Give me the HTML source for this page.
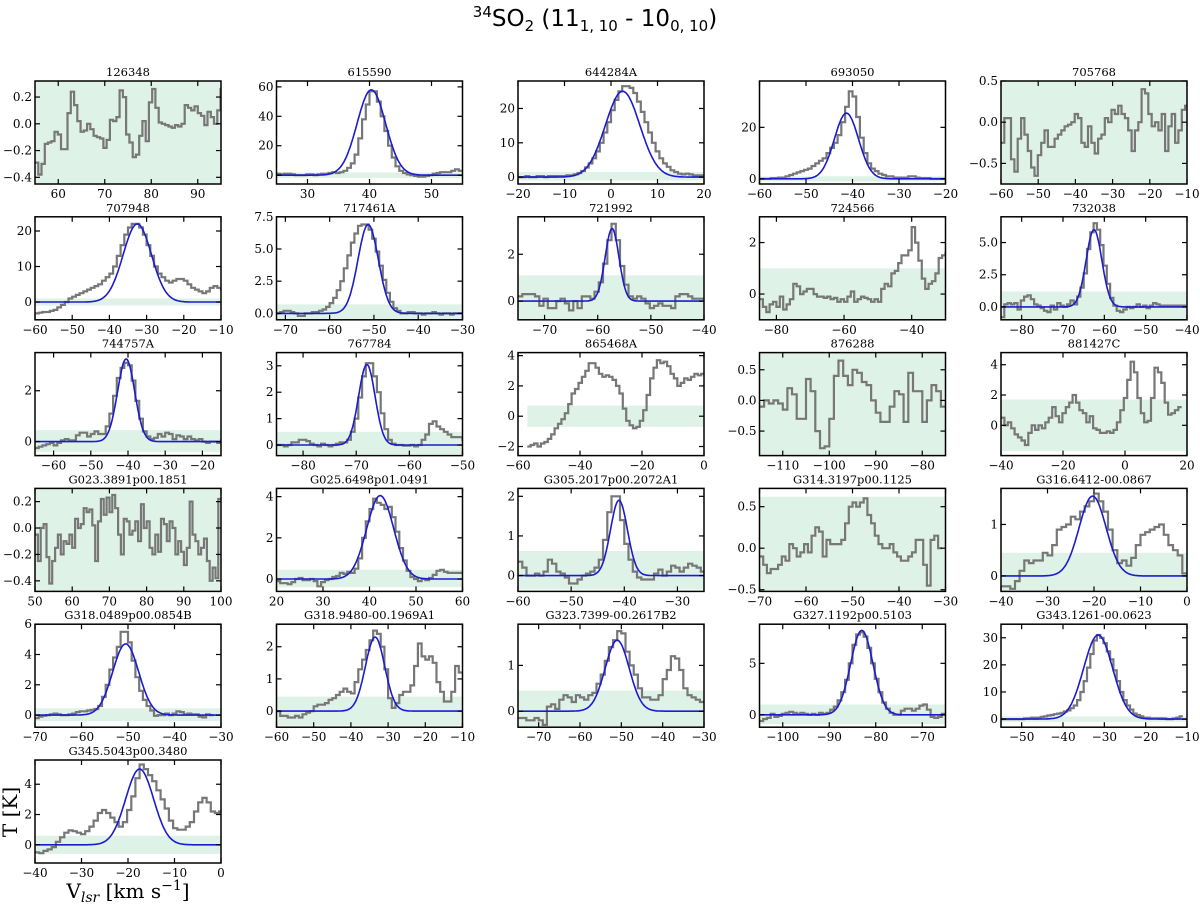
<!DOCTYPE html>
<html><head><meta charset="utf-8">
<style>
html,body{margin:0;padding:0;background:#fff;}
svg{display:block;}
text{font-family:"DejaVu Serif","Liberation Serif",serif;}
</style></head>
<body>
<svg id="chart" width="1200" height="905" viewBox="0 0 1200 905" xmlns="http://www.w3.org/2000/svg">
<text x="595" y="26" text-anchor="middle" font-size="23" style="font-family:'DejaVu Sans',sans-serif"><tspan font-size="15" dy="-9">34</tspan><tspan dy="9">SO</tspan><tspan font-size="15" dy="5">2</tspan><tspan dy="-5"> (11</tspan><tspan font-size="15" dy="5">1, 10</tspan><tspan dy="-5"> - 10</tspan><tspan font-size="15" dy="5">0, 10</tspan><tspan dy="-5">)</tspan></text>
<text x="0" y="0" transform="translate(17,812) rotate(-90)" text-anchor="middle" font-size="20">T [K]</text>
<text x="128" y="898" text-anchor="middle" font-size="20">V<tspan font-size="14" font-style="italic" dy="4">lsr</tspan><tspan dy="-4"> [km s</tspan><tspan font-size="14" dy="-8">−1</tspan><tspan dy="8">]</tspan></text>
</svg>
<script>
// ---- panel titles ----
const titles = ["126348","615590","644284A","693050","705768","707948","717461A","721992","724566","732038","744757A","767784","865468A","876288","881427C","G023.3891p00.1851","G025.6498p01.0491","G305.2017p00.2072A1","G314.3197p00.1125","G316.6412-00.0867","G318.0489p00.0854B","G318.9480-00.1969A1","G323.7399-00.2617B2","G327.1192p00.5103","G343.1261-00.0623","G345.5043p00.3480"];
// ---- x axis limits and ticks ----
const xLims = [[55,95],[25,55],[-20,20],[-60,-20],[-60,-10],[-60,-10],[-72,-30],[-75,-40],[-85,-30],[-85,-40],[-65,-15],[-85,-50],[-60,0],[-115,-75],[-40,20],[50,100],[20,60],[-60,-25],[-70,-30],[-40,0],[-70,-30],[-60,-10],[-75,-30],[-105,-65],[-55,-10],[-40,0]];
const xTicks = [[60,70,80,90],[30,40,50],[-20,-10,0,10,20],[-60,-50,-40,-30,-20],[-60,-50,-40,-30,-20,-10],[-60,-50,-40,-30,-20,-10],[-70,-60,-50,-40,-30],[-70,-60,-50,-40],[-80,-60,-40],[-80,-70,-60,-50,-40],[-60,-50,-40,-30,-20],[-80,-70,-60,-50],[-60,-40,-20,0],[-110,-100,-90,-80],[-40,-20,0,20],[50,60,70,80,90,100],[20,30,40,50,60],[-60,-50,-40,-30],[-70,-60,-50,-40,-30],[-40,-30,-20,-10,0],[-70,-60,-50,-40,-30],[-60,-50,-40,-30,-20,-10],[-70,-60,-50,-40,-30],[-100,-90,-80,-70],[-50,-40,-30,-20,-10],[-40,-30,-20,-10,0]];
// ---- y axis limits and ticks ----
const yLims = [[-0.45,0.32],[-6,64],[-2,28],[-2,38],[-0.75,0.5],[-5,24],[-0.5,7.5],[-0.8,3.6],[-1,3],[-1,7],[-0.55,3.5],[-0.4,3.5],[-2.6,4.2],[-0.9,0.78],[-2,4.8],[-0.48,0.3],[-0.6,4.4],[-0.4,2.2],[-0.52,0.72],[-0.3,1.7],[-0.8,6],[-0.5,2.7],[-0.35,1.9],[-1.2,8.8],[-3,35],[-1.2,5.6]];
const yTicks = [[-0.4,-0.2,0,0.2],[0,20,40,60],[0,10,20],[0,20],[-0.5,0,0.5],[0,10,20],[0,2.5,5,7.5],[0,2],[0,2],[0,2.5,5],[0,2],[0,1,2,3],[-2,0,2,4],[-0.5,0,0.5],[0,2,4],[-0.4,-0.2,0,0.2],[0,2,4],[0,1,2],[-0.5,0,0.5],[0,1],[0,2,4,6],[0,1,2],[0,1],[0,5],[0,10,20,30],[0,2,4]];
const yTickLabels = [["−0.4","−0.2","0.0","0.2"],["0","20","40","60"],["0","10","20"],["0","20"],["−0.5","0.0","0.5"],["0","10","20"],["0.0","2.5","5.0","7.5"],["0","2"],["0","2"],["0.0","2.5","5.0"],["0","2"],["0","1","2","3"],["−2","0","2","4"],["−0.5","0.0","0.5"],["0","2","4"],["−0.4","−0.2","0.0","0.2"],["0","2","4"],["0","1","2"],["−0.5","0.0","0.5"],["0","1"],["0","2","4","6"],["0","1","2"],["0","1"],["0","5"],["0","10","20","30"],["0","2","4"]];
// ---- rms band [lo, hi, xStart] (null xStart = full width) ----
const bands = [[-0.45,0.32,null],[-1.8,1.8,null],[-1,1.5,null],[-1,1,null],[-0.75,0.5,null],[-1,1,null],[-0.6,0.7,null],[-0.8,1.1,null],[-1,1,null],[-1,1.2,null],[-0.4,0.45,null],[-0.35,0.5,null],[-0.7,0.7,-57],[-0.9,0.78,null],[-1.7,1.7,null],[-0.48,0.3,null],[-0.4,0.45,null],[-0.35,0.62,null],[-0.52,0.62,null],[-0.3,0.45,null],[-0.4,0.45,null],[-0.45,0.45,null],[-0.35,0.45,null],[-0.9,1,null],[-1,1,null],[-0.6,0.6,null]];
// ---- spectrum start velocity and channel width ----
const specV0 = [55,25,-20,-60,-60,-60,-72,-75,-85,-85,-65,-85,-57,-115,-40,50,20,-60,-70,-40,-70,-60,-75,-105,-55,-40];
const specDv = [0.7,0.6,0.8,0.8,0.9,1,0.8,0.8,1,0.8,1,0.7,1.1,1,1.1,0.77,0.8,0.8,0.8,1,0.8,1,1,0.8,0.8,0.9];
// ---- spectra (brightness temperature per channel) ----
const spec = [
[-0.29,-0.38,-0.30,-0.15,-0.14,-0.13,-0.06,-0.08,-0.19,-0.19,0.08,0.24,0.14,0.02,-0.06,-0.05,0.00,-0.04,-0.09,-0.10,-0.11,-0.18,-0.12,0.03,0.02,0.05,0.25,0.20,-0.08,-0.14,-0.25,-0.23,-0.09,0.02,-0.13,0.16,0.26,0.12,0.01,0.00,-0.01,-0.02,-0.03,-0.01,-0.02,0.00,0.14,0.12,0.10,0.13,0.08,0.06,-0.01,0.09,0.05,0.00,0.10,0.26,0.20],
[1,0.5,1,1,0.5,0,0,0,0.5,0.5,0,0.5,1,1,1.5,2,1.5,2,3,5,8,14,25,38,48,57,57,50,40,30,20,12,6,3,1.5,0.5,0,-0.5,-1,-1,-0.5,0,1,1.5,2,2,2,3,4,3],
[0,0,0.3,0,0,0.3,0.3,0,0.3,0.3,0.3,0.3,0.3,0.5,0.5,0.8,1.2,1.8,2.8,4,5.5,7.5,10,13,16,19.5,22.5,25,26.5,26.5,26,24.5,22,19,16,13,10,7.5,5.5,4,3,2,1.5,1,0.8,1,0.8,0.5,0.5,0.5],
[0,0,0,0.3,0.3,0.5,0.5,1,1.5,2,2.5,3,3.5,4,5,6,7,8,10,12,14,17,22,28,34,32,24,16,10,6,4,3,2,1.5,1,1,0.5,0.5,0.5,0.5,1,1,0.5,0.3,0.3,0.3,0,0,0,0],
[-0.25,0.05,0.05,-0.45,-0.60,-0.20,0.05,-0.15,-0.35,-0.55,-0.65,-0.40,-0.25,-0.10,-0.30,-0.30,-0.20,-0.15,-0.10,-0.05,-0.03,0.00,0.10,0.05,-0.25,-0.30,-0.05,-0.25,-0.38,-0.20,-0.15,0.05,0.00,0.15,0.10,0.20,0.10,0.05,-0.10,-0.35,-0.10,0.00,0.40,0.35,0.10,-0.05,0.00,-0.10,0.10,-0.35,-0.05,0.10,-0.25,-0.10,0.15,0.20],
[-3.2,-3,-2.8,-2.8,-2.5,-2.2,-1.5,-0.8,0,1,1.5,2,2.5,3,3.5,4,4.5,5,6,7,8,10,13,16,19,21,22,22,21,19,16,13,10,8,7,6,5.5,6,6.5,6.5,6,5,4,3.5,3,2.5,3,4,4.5,4,3.5],
[0,0.1,0.2,0.2,0.1,0,-0.2,-0.2,0,0,0.1,0.1,0.2,0.3,0.5,0.8,1.2,1.8,2.5,3.5,4.5,5.5,6.2,6.8,6.9,6.9,6.5,5.8,4.8,3.7,2.6,1.6,0.9,0.4,0.2,0,0,0.1,0.1,0,0,-0.1,0,0,0.1,0,-0.1,0,0,-0.1,0,0,0],
[0.2,0.3,0.3,0.3,0.2,-0.2,0.1,-0.3,-0.3,0,0.1,-0.1,-0.4,0,-0.3,0.2,0.2,0.1,0.4,0.8,1.6,2.6,3.3,2.6,1.5,0.7,0.2,0.1,0.2,0.1,-0.1,-0.3,-0.2,-0.1,-0.2,-0.2,-0.3,0.2,0.3,0.3,0.2,0.1,0.1,0.1],
[-0.2,-0.5,-0.7,-0.4,-0.3,-0.5,-0.1,-0.6,-0.4,-0.2,0.4,0.3,0,0.1,0.2,0.2,0,-0.1,-0.1,-0.15,-0.1,-0.2,-0.15,-0.3,-0.2,-0.3,-0.1,0.1,-0.3,-0.2,-0.1,-0.15,-0.2,-0.3,-0.2,-0.3,0.2,0.4,0.3,0.8,0.9,1.2,1.5,1.5,1.7,2.6,2.0,1.3,0.6,0.2,0.4,0.5,0.8,1.4,1.5,1.6],
[-0.8,0.2,0.3,0.2,0.3,-0.2,0.5,0.8,0.9,0.6,0.2,0.1,-0.1,-0.3,-0.4,0.1,-0.2,0.3,0.1,0.0,0.2,0.5,0.2,0.8,1.5,2.6,4.5,5.8,6.5,6,4.8,3.2,1.8,0.7,0.1,-0.3,-0.4,-0.2,0,-0.1,0,0.2,0,0.1,-0.1,0.1,0.3,0.2,0.1,0.1,0.1,0.1,0.1,0.1,0.1,0.1],
[-0.25,-0.2,-0.15,-0.1,-0.05,-0.15,-0.05,0.05,0.1,0.05,0.05,0.25,0.35,0.35,0.2,0.3,0.4,0.3,0.3,0.6,1.1,1.8,2.5,2.9,3.1,3.0,2.4,1.6,0.9,0.4,0.2,0.1,0.15,0.3,0.2,0.35,0.3,0.1,0.25,0.2,0.1,0.2,0.1,0.05,0.1,0,-0.05,0,0,-0.05,0.05,0.15],
[0,0,-0.05,0,0.1,0.1,0.2,0.2,0.15,0.05,0,-0.05,0.05,0,-0.05,0,0.05,0.1,0.1,0.2,0.5,1.0,1.8,2.6,3.1,3.1,2.6,2.0,1.2,0.6,0.2,0.05,0,0,-0.02,-0.02,0,-0.05,0,0.2,0.4,0.8,0.9,0.7,0.6,0.5,0.4,0.3,0.3,0.3,0.2],
[-2,-1.9,-1.8,-2,-1.8,-1.7,-1.5,-1.2,-0.8,-0.5,-0.2,0.2,0.8,1.5,1.8,2.2,2.6,3.0,3.5,3.5,3.2,2.8,2.6,2.7,2.6,2.4,2.0,1.5,0.5,-0.3,-0.6,-0.8,-0.7,-0.3,0.4,1.4,2.5,3.2,3.7,3.5,3.6,3.3,2.8,2.5,2.0,2.2,2.5,2.4,2.6,2.8,2.7,2.8],
[-0.1,0,-0.05,0,-0.05,-0.15,0.2,0.1,-0.3,-0.3,0.35,0.15,-0.5,-0.78,-0.75,-0.3,0.4,0.65,0.4,0.25,0.5,0.45,0.3,0.25,0,-0.2,-0.35,-0.35,-0.1,0.15,0.1,-0.35,0.45,0.15,0.15,-0.35,0,0.25,0.15,-0.1],
[0.5,0,0.2,-0.2,-0.6,-0.8,-1.0,-1.3,-0.5,0,-0.3,0,-0.2,0.2,0.5,1.2,0.6,0.2,0.8,1.2,1.5,2.0,1.5,1.0,0.8,0.2,0.6,-0.2,-0.3,-0.5,-0.5,-0.4,-0.5,-0.3,0.2,1.0,1.8,3.0,4.2,3.5,1.8,0.8,0.2,0.3,1.8,3.8,3.5,2.8,1.5,0.7,0.8,1.0,1.2],
[-0.05,-0.25,0.0,0.03,-0.22,-0.42,-0.25,-0.15,-0.05,-0.2,-0.1,-0.12,-0.05,-0.15,0.07,0.0,0.03,0.15,0.12,0.14,0.02,-0.25,0.05,0.22,0.1,0.23,0.12,0.25,0.15,-0.05,-0.2,0.07,0.05,-0.05,-0.02,0.05,-0.1,0.18,0.0,0.05,-0.15,-0.2,-0.05,-0.18,0.07,0.03,-0.1,0.05,0.0,-0.2,-0.1,-0.18,-0.28,-0.15,0.2,-0.05,-0.1,-0.2,-0.15,-0.08,-0.25,-0.4,-0.3,-0.38,0.22],
[-0.1,-0.2,-0.2,-0.25,-0.15,0,0.05,-0.05,-0.05,0,-0.1,-0.35,-0.15,-0.05,0.0,0.1,0.15,0.3,0.25,0.35,0.3,0.5,1.0,2.0,2.8,3.4,3.9,3.7,3.6,3.4,3.5,3.0,2.3,1.5,0.9,0.4,0.1,0.0,-0.1,0,-0.05,0.05,0.2,0.4,0.45,0.35,0.3,0.3,0.3,0.3],
[0.35,0.2,0.0,0.0,0.05,0.0,0.1,0.4,0.3,0.1,0.05,-0.05,-0.2,-0.2,-0.1,0,0.05,0.1,0.2,0.4,0.9,1.6,2.0,2.0,1.4,0.8,0.4,0.1,-0.05,-0.1,-0.1,-0.1,0.05,0.15,0.0,0.1,0.25,0.2,0.1,0.2,0.3,0.25,0.2,0.1],
[-0.1,-0.2,-0.3,-0.25,-0.25,-0.2,-0.1,-0.15,0.05,0.0,-0.1,-0.05,0.05,-0.05,0.15,0.25,0.2,-0.1,0.1,0.05,0.05,0.05,0.1,0.3,0.5,0.55,0.5,0.55,0.6,0.4,0.3,0.15,0.05,0.0,0.0,0.05,-0.05,-0.1,-0.15,-0.15,-0.1,-0.05,0.1,0.1,-0.2,-0.45,0.1,0.15,0.0],
[-0.2,-0.2,-0.25,-0.1,0.1,0.3,0.25,0.3,0.3,0.45,0.4,0.6,0.9,0.95,1.0,1.15,1.1,1.25,1.35,1.45,1.6,1.45,1.25,0.9,0.5,0.25,0.3,0.2,0.35,0.6,0.8,0.85,0.9,0.95,1.0,0.8,0.6,0.5,0.4,0.05],
[-0.2,-0.1,-0.05,0,0.05,0.1,0.05,0,0,0.05,0.1,0.2,0.25,0.25,0.3,0.35,0.4,0.6,1.2,2.0,3.0,3.8,4.5,5.5,5.5,4.8,3.6,2.5,1.6,1.0,0.6,0.3,-0.05,0.0,0.0,0.1,0.0,0.1,0.25,0.2,0.05,0.1,0.05,0.05,-0.1,-0.15,0.05,0],
[0.0,-0.15,-0.15,-0.2,-0.2,-0.15,-0.2,-0.1,-0.05,0,0.15,0.2,0.2,0.25,0.35,0.4,0.5,0.6,0.7,0.6,0.55,0.9,1.3,1.6,1.9,2.2,2.5,2.4,2.0,1.3,0.4,0.1,0.25,0.5,0.6,0.6,0.8,1.4,2.1,1.7,1.6,1.7,1.5,0.9,0.6,0.3,0.3,0.6,1.4,1.2],
[-0.15,-0.15,-0.2,-0.2,-0.15,-0.2,-0.3,0.1,0.15,0.05,0.25,0.35,0.3,0.2,0.35,0.3,0.25,0.35,0.4,0.6,0.8,1.1,1.4,1.55,1.75,1.7,1.3,1.0,0.8,0.5,0.3,0.3,0.25,0.25,0.35,0.7,0.9,1.2,1.15,0.9,0.5,0.35,0.3,0.25,0.2],
[-0.6,-0.4,-0.3,0.1,-0.2,-0.1,0.1,0.2,0.3,0.2,0.1,0.2,0.1,0.0,0.1,0.0,0.2,0.1,0.2,0.5,0.8,1.4,2.2,3.4,5.0,6.8,7.8,8.0,7.6,6.5,5.0,3.5,2.2,1.2,0.6,0.2,0.0,0.0,0.4,0.6,0.6,0.4,0.6,0.9,1.0,0.5,-0.2,-0.3,-0.2,0.1,0.1],
[0,0,0,0,0,0,0,0.2,0.3,0.5,0.5,0.5,0.8,1,1.3,1.5,1.8,2,2.3,2.8,3.2,4,5,7,10,14,19,24,29,31,30,28,25,22,18,14,10,7,5,3.5,2,1.5,1,0.5,0.5,0.3,0.3,0.3,0.3,0.2,0,0,0.2,0.5,1],
[-0.5,-0.55,-0.4,-0.3,-0.15,0.2,0.5,0.8,0.95,0.9,0.8,0.7,0.9,1.2,1.6,2.1,2.3,2.1,1.8,1.5,1.2,1.5,2.3,3.2,4.4,5.3,5.0,4.6,4.2,3.6,3.0,2.4,1.6,1.1,1.0,1.0,1.2,1.5,2.2,2.8,3.1,2.8,2.2,2.1,2.2,2.0,1.8]
];
// ---- gaussian fit parameters [amplitude, centre, sigma] (null = no fit) ----
const fitAmp = [null,58,25,25.5,null,22,6.9,3.1,null,6,3.25,3.05,null,null,null,null,4.05,1.9,null,1.55,4.7,2.3,1.55,8.2,31,5];
const fitCen = [null,40.3,2.5,-41.3,null,-32.5,-51.3,-57.3,null,-62.5,-40.5,-68,null,null,null,null,42.3,-41,null,-20.3,-50.5,-33.5,-51,-83,-31.5,-17.5];
const fitSig = [null,2.3,3.7,2.6,null,3.8,2.3,1.3,null,1.9,2.3,1.55,null,null,null,null,2.9,1.6,null,2.9,2.8,2.6,2.9,2.4,3.5,3];

const NS = "http://www.w3.org/2000/svg";
const svg = document.getElementById("chart");
const PW = 186, PH = 103;
function mk(tag, attrs, parent){
  const e = document.createElementNS(NS, tag);
  for (const k in attrs) e.setAttribute(k, attrs[k]);
  parent.appendChild(e);
  return e;
}
function fmtX(v){ return v < 0 ? "−" + Math.abs(v) : String(v); }

titles.forEach((title, i) => {
  const col = i % 5, row = Math.floor(i / 5);
  const L = 35 + col * 241.5, T = 81 + row * 135.8;
  const [x0, x1] = xLims[i], [y0, y1] = yLims[i];
  const sx = v => L + (v - x0) / (x1 - x0) * PW;
  const sy = v => T + PH - (v - y0) / (y1 - y0) * PH;

  const g = mk("g", {}, svg);
  
  

  const cp = mk("clipPath", {id: "clip" + i}, g);
  mk("rect", {x: L, y: T, width: PW, height: PH}, cp);

  const t = mk("text", {x: L + PW / 2, y: T - 5, "text-anchor": "middle", "font-size": "11.5"}, g);
  t.textContent = title;
  
  

  const inner = mk("g", {"clip-path": "url(#clip" + i + ")"}, g);
  const b = bands[i];
  const bx = b[2] === null ? L : sx(b[2]);
  const band = mk("rect", {x: bx, y: sy(b[1]), width: L + PW - bx, height: sy(b[0]) - sy(b[1]), fill: "#dff2e7"}, inner);
  
  

  const s = spec[i], v0 = specV0[i], dv = specDv[i];
  let d = "";
  s.forEach((val, k) => {
    const xa = sx(v0 + k * dv), xb = sx(v0 + (k + 1) * dv), y = sy(val);
    d += (k === 0 ? "M" : "L") + xa.toFixed(1) + "," + y.toFixed(1) + "L" + xb.toFixed(1) + "," + y.toFixed(1);
  });
  const sp = mk("path", {d: d, fill: "none", stroke: "#777", "stroke-width": "2.2"}, inner);
  
  

  if (fitAmp[i] !== null) {
    let fd = "";
    const N = 200;
    for (let k = 0; k <= N; k++) {
      const v = x0 + (x1 - x0) * k / N;
      const y = fitAmp[i] * Math.exp(-0.5 * Math.pow((v - fitCen[i]) / fitSig[i], 2));
      fd += (k ? "L" : "M") + sx(v).toFixed(1) + "," + sy(y).toFixed(1);
    }
    const fp = mk("path", {d: fd, fill: "none", stroke: "#1c1ccf", "stroke-width": "1.6"}, inner);
    
    
  }

  const frame = mk("rect", {x: L, y: T, width: PW, height: PH, fill: "none", stroke: "#000", "stroke-width": "1.5"}, g);
  
  

  xTicks[i].forEach(v => {
    const x = sx(v);
    mk("line", {x1: x, y1: T + PH, x2: x, y2: T + PH - 5, stroke: "#000", "stroke-width": "1.2"}, g);
    mk("line", {x1: x, y1: T, x2: x, y2: T + 5, stroke: "#000", "stroke-width": "1.2"}, g);
    const tl = mk("text", {x: x, y: T + PH + 14, "text-anchor": "middle", "font-size": "12"}, g);
    tl.textContent = fmtX(v);
    
    
  });
  yTicks[i].forEach((v, k) => {
    const y = sy(v);
    mk("line", {x1: L, y1: y, x2: L + 5, y2: y, stroke: "#000", "stroke-width": "1.2"}, g);
    mk("line", {x1: L + PW, y1: y, x2: L + PW - 5, y2: y, stroke: "#000", "stroke-width": "1.2"}, g);
    const tl = mk("text", {x: L - 3, y: y + 4, "text-anchor": "end", "font-size": "12"}, g);
    tl.textContent = yTickLabels[i][k];
    
    
  });
});
</script>
</body></html>
